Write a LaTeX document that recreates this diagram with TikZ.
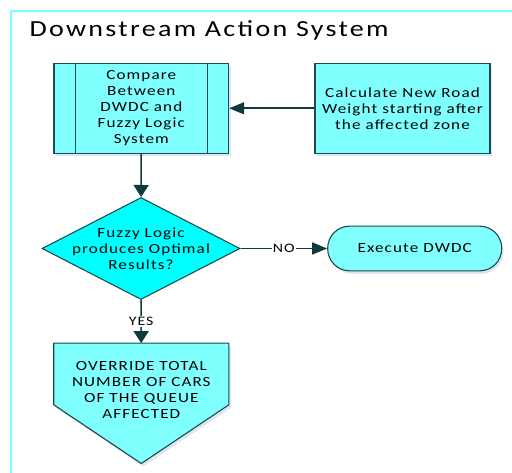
\documentclass[tikz,border=0pt]{standalone}
\usepackage{fontspec}
\setmainfont{Carlito}[FakeStretch=1.22,LetterSpace=8]
\newfontfamily\titlefont{Carlito}[FakeStretch=1.22,LetterSpace=10]
\usepackage{xcolor}
\usepackage{tikz}
\usetikzlibrary{calc,arrows.meta,shapes.geometric,shadows}
\definecolor{bg}{HTML}{FFFFFF}
\definecolor{border}{HTML}{80FFFF}
\definecolor{boxfill}{HTML}{80FFFF}
\definecolor{decfill}{HTML}{00FFFF}
\definecolor{edge}{HTML}{1E4B4B}
\definecolor{link}{HTML}{0E3B3B}
\definecolor{shade}{HTML}{DDE7F2}
\tikzset{
  box/.style={draw=edge, fill=boxfill, line width=1.1pt, inner sep=0pt,
    drop shadow={shadow xshift=2pt, shadow yshift=-3pt, fill=shade, opacity=1}},
  decision/.style={diamond, draw=edge, fill=decfill, line width=1.1pt, inner sep=0pt},
  body/.style={text=black, font=\fontsize{14}{16}\selectfont, align=center},
  tag/.style={text=black, fill=bg, inner sep=1pt, font=\fontsize{13}{15}\selectfont},
  flowh/.style={draw=link, line width=1.6pt, -{Triangle[length=15pt,width=12pt]}},
  flowv/.style={draw=link, line width=1.6pt, -{Triangle[length=12pt,width=15pt]}},
}
\begin{document}
\begin{tikzpicture}[x=1pt,y=-1pt]
  \useasboundingbox[fill=bg] (0,0) rectangle (512,473);
  \draw[draw=border, line width=1.6pt] (512,11) -- (11,11) -- (11,473);
  \node[anchor=base west, font=\titlefont\fontsize{23}{27}\selectfont] (title) at (26,36.5) {Downstream Action System};

  \node[box, body, minimum width=174.7pt, minimum height=90pt] (compare) at (141.3,108.3)
    {Compare\\Between\\DWDC and\\Fuzzy Logic\\System};
  \draw[draw=edge, line width=1.1pt] ($(compare.north west)+(22,0)$) -- ($(compare.south west)+(22,0)$);
  \draw[draw=edge, line width=1.1pt] ($(compare.north east)+(-22,0)$) -- ($(compare.south east)+(-22,0)$);

  \node[box, body, minimum width=175pt, minimum height=90pt] (calc) at (402.5,108.3)
    {Calculate New Road\\Weight starting after\\the affected zone};

  \node[decision, minimum width=198pt, minimum height=102pt,
    label={[body]center:{Fuzzy Logic\\produces Optimal\\Results?}}] (fuzzy) at (141,248.5) {};

  \node[box, body, rounded corners=22pt, minimum width=174pt, minimum height=44.7pt] (exec) at (414.7,248.5)
    {Execute DWDC};

  \node[inner sep=0pt, minimum width=174.7pt, minimum height=120pt] (override) at (141.3,403.3) {};
  \draw[box] (override.north west) -- (override.north east) -- ($(override.north east)+(0,61.7)$)
    -- (override.south) -- ($(override.north west)+(0,61.7)$) -- cycle;
  \node[body] (overridetext) at (141.3,389.7) {OVERRIDE TOTAL\\NUMBER OF CARS\\OF THE QUEUE\\AFFECTED};

  \draw[flowh] (calc) -- (compare);
  \draw[flowv] (compare) -- (fuzzy);
  \draw[flowh] (fuzzy) -- node[tag] {NO} (exec);
  \draw[flowv] (fuzzy) -- node[tag] {YES} (override);
\end{tikzpicture}
\end{document}
